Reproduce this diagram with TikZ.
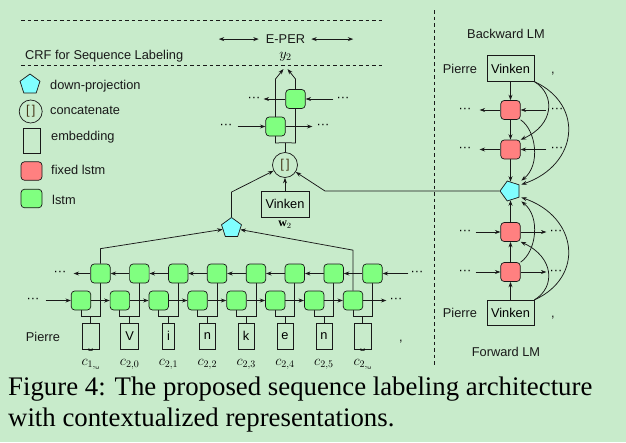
\documentclass[tikz,border=0pt]{standalone}
\usepackage{fontspec}
\setmainfont{Liberation Serif}
\newfontfamily\hv{Liberation Sans}
\newfontfamily\dejavu{DejaVu Sans}
\usetikzlibrary{arrows.meta,shapes.geometric}
\definecolor{bgc}{RGB}{200,235,203}
\definecolor{lgreen}{RGB}{128,255,128}
\definecolor{lred}{RGB}{255,128,128}
\definecolor{lcyan}{RGB}{128,255,255}
\definecolor{ink}{RGB}{25,25,25}
\definecolor{brk}{RGB}{70,55,25}
\pgfdeclarelayer{bglayer}
\pgfdeclarelayer{linelayer}
\pgfsetlayers{bglayer,linelayer,main}
\newcommand\vsbox{\hbox to 8pt{\hss\vphantom{V}\smash{\raisebox{-9pt}{\dejavu\fontsize{8}{8}\selectfont ␣}}\hss}}
\newcommand\vssub{\hbox{\dejavu\fontsize{6.5}{6.5}\selectfont ␣}}
\begin{document}
\begin{tikzpicture}[
  x=1pt, y=-1pt,
  >={Stealth[length=5.5pt,width=4pt]},
  conn/.style={draw=ink, line width=0.75pt},
  arr/.style={conn, ->},
  sepline/.style={draw=ink, line width=0.6pt, dash pattern=on 3.5pt off 3pt},
  hvtext/.style={font=\hv\fontsize{12.8}{15}\selectfont, inner sep=0pt, text=ink},
  cellbox/.style={rectangle, rounded corners=3.5pt, minimum width=19.5pt, minimum height=19pt, inner sep=0pt, draw=ink, line width=0.7pt},
  lstmcell/.style={cellbox, fill=lgreen},
  fixedcell/.style={cellbox, fill=lred},
  pentnode/.style={regular polygon, regular polygon sides=5, minimum size=21pt, inner sep=0pt, fill=lcyan, draw=ink, line width=0.7pt},
  concatnode/.style={circle, minimum size=25pt, inner sep=0pt, draw=ink, line width=0.7pt, text=brk, font=\hv\fontsize{12.8}{15}\selectfont},
  embnode/.style={rectangle, draw=ink, line width=0.7pt, minimum height=26pt, inner xsep=4.5pt, inner ysep=0pt, font=\hv\fontsize{12.8}{15}\selectfont},
  wordnode/.style={rectangle, draw=ink, line width=0.7pt, minimum width=47pt, minimum height=25.5pt, inner sep=0pt, font=\hv\fontsize{12.8}{15}\selectfont},
  dotnode/.style={font=\hv\fontsize{12.8}{15}\selectfont, inner sep=0pt},
  captext/.style={font=\fontsize{26.8}{31}\selectfont, inner sep=0pt, anchor=base west},
]
\begin{pgfonlayer}{bglayer}
\fill[bgc] (0,0) rectangle (626,442);
\end{pgfonlayer}
\useasboundingbox (0,0) rectangle (626,442);

% separators
\draw[sepline] (21,20) -- (383,20);
\draw[sepline] (21,65) -- (383,65);
\draw[sepline] (434,10) -- (434,366);

% header
\node[hvtext, anchor=base west] (crf) at (25,59) {CRF for Sequence Labeling};
\node[hvtext, anchor=base] (eper) at (285.5,43.5) {E-PER};
\draw[conn,<->] ([xshift=-7pt]eper.west) -- ([xshift=-47pt]eper.west);
\draw[conn,<->] ([xshift=6pt]eper.east) -- ([xshift=48pt]eper.east);
\node[inner sep=0pt, font=\fontsize{14}{16}\selectfont] (y2) at (285.5,57) {$y_2$};

% legend
\node[pentnode] (lp) at (30,84.5) {};
\node[concatnode, minimum size=23pt] (lc) at (30.7,111.5) {[\,]};
\node[rectangle, draw=ink, line width=0.7pt, minimum width=17pt, minimum height=25pt, inner sep=0pt] (le) at (32,140.5) {};
\node[fixedcell, minimum width=21pt, minimum height=18.5pt] (lr) at (31.5,171) {};
\node[lstmcell, minimum width=21pt, minimum height=18.5pt] (lg) at (31.5,198.5) {};
\node[hvtext, anchor=base west] (tp) at (50,89.5) {down-projection};
\node[hvtext, anchor=base west] (tc) at (50,114.8) {concatenate};
\node[hvtext, anchor=base west] (te) at (51,140.7) {embedding};
\node[hvtext, anchor=base west] (tr) at (51,174) {fixed lstm};
\node[hvtext, anchor=base west] (tg) at (52,204) {lstm};

% top stack
\node[lstmcell] (ft) at (275.5,126.5) {};
\node[lstmcell] (bt) at (295.5,99) {};
\node[concatnode] (cc) at (285,165) {[\,]};
\node[wordnode, minimum width=48pt, minimum height=26pt] (vw) at (285,204) {Vinken};
\node[inner sep=0pt, font=\fontsize{12}{14}\selectfont] (w2) at (285,225) {$\mathbf{w}_2$};
\node[dotnode] (dt1) at (226,126.5) {···};
\node[dotnode] (dt2) at (323,126.5) {···};
\node[dotnode] (dt3) at (254,99) {···};
\node[dotnode] (dt4) at (343,99) {···};

% bottom char-level LSTM
\foreach \ch/\sub [count=\k from 0] in {\vsbox/{1,\vssub}, V/{2,0}, i/{2,1}, n/{2,2}, k/{2,3}, e/{2,4}, n/{2,5}, \vsbox/{2,\vssub}} {
  \pgfmathsetmacro\fx{81+38.86*\k}
  \pgfmathsetmacro\bx{100.5+38.86*\k}
  \pgfmathsetmacro\ex{90.75+38.86*\k}
  \node[lstmcell] (f\k) at (\fx,300.5) {};
  \node[lstmcell] (b\k) at (\bx,273.5) {};
  \node[embnode] (e\k) at (\ex,336) {\ch};
  \node[inner sep=0pt, font=\fontsize{14.5}{16}\selectfont, anchor=base] (c\k) at (\ex,365) {$c_{\sub}$};
}
\node[hvtext, anchor=base] (pw) at (43,341) {Pierre};
\node[hvtext, anchor=base] (kw) at (401,341) {,};
\node[dotnode] (dfl) at (33,300.5) {···};
\node[dotnode] (dfr) at (396,300.5) {···};
\node[dotnode] (dbl) at (60,273.5) {···};
\node[dotnode] (dbr) at (417,273.5) {···};
\node[pentnode] (pd) at (231.5,228) {};

% right side LMs
\node[hvtext] (blm) at (506,34) {Backward LM};
\node[wordnode] (vb) at (510.5,68.5) {Vinken};
\node[hvtext, anchor=base] (pb) at (460,73) {Pierre};
\node[hvtext, anchor=base] (kb) at (553,73) {,};
\node[fixedcell] (r1) at (510.5,110) {};
\node[fixedcell] (r2) at (510.5,149.5) {};
\node[pentnode, shape border rotate=90] (rp) at (510.5,191) {};
\node[fixedcell] (r3) at (510.5,232) {};
\node[fixedcell] (r4) at (510.5,272) {};
\node[wordnode] (vf) at (510.5,313) {Vinken};
\node[hvtext, anchor=base] (pf) at (460,317.5) {Pierre};
\node[hvtext, anchor=base] (kf) at (553,317.5) {,};
\node[hvtext] (flm) at (506,352) {Forward LM};
\node[dotnode] (d1l) at (465,110) {···};
\node[dotnode] (d1r) at (557,110) {···};
\node[dotnode] (d2l) at (465,149.5) {···};
\node[dotnode] (d2r) at (557,149.5) {···};
\node[dotnode] (d3l) at (465,232) {···};
\node[dotnode] (d3r) at (556,232) {···};
\node[dotnode] (d4l) at (465,272) {···};
\node[dotnode] (d4r) at (556,272) {···};

% caption
\node[captext] (cap1) at (8,395) {Figure 4: The proposed sequence labeling architecture};
\node[captext] (cap2) at (8,426) {with contextualized representations.};

\begin{pgfonlayer}{linelayer}
% bottom char connections
\foreach \k in {0,...,7} {
  \draw[conn] (e\k.north) -- ++(0,-6) coordinate (j\k);
  \draw[conn] (f\k.south) |- (j\k) -| (b\k.south);
}
\foreach \k in {0,...,6} {
  \pgfmathtruncatemacro\n{\k+1}
  \draw[arr] (f\k.east) -- (f\n.west);
  \draw[arr] (b\n.west) -- (b\k.east);
}
\draw[arr] ([xshift=6pt]dfl.east) -- (f0.west);
\draw[arr] (f7.east) -- ([xshift=-3pt]dfr.west);
\draw[arr] (b0.west) -- ([xshift=7pt]dbl.east);
\draw[arr] ([xshift=-2pt]dbr.west) -- (b7.east);
\draw[arr] (b0.north) -- ++(0,-15) -- (pd);
\draw[arr] (f7.north) -- ++(0,-40.5) -- (pd);
\draw[arr] (pd.north) -- ++(0,-25) -- (cc);

% top stack
\draw[arr] (vw) -- (cc);
\draw[conn] (cc.north) -- ++(0,-9.5) coordinate (jt);
\draw[arr] (jt) -- (275.5,143) -- (275.5,79) -- ([xshift=-2pt,yshift=-12pt]y2.center);
\draw[arr] (jt) -- (295.5,143) -- (295.5,79) -- ([xshift=2pt,yshift=-12pt]y2.center);
\draw[arr] ([xshift=5pt]dt1.east) -- (ft.west);
\draw[arr] (ft.east) -- ([xshift=-4pt]dt2.west);
\draw[arr] (bt.west) -- ([xshift=3pt]dt3.east);
\draw[arr] ([xshift=-3pt]dt4.west) -- (bt.east);

% right stack
\draw[arr] (rp.corner 1) -- (325,191) -- (cc);
\draw[arr] (vb) -- (r1);
\draw[arr] (r1) -- (r2);
\draw[arr] (r2) -- (rp);
\draw[arr] (vf) -- (r4);
\draw[arr] (r4) -- (r3);
\draw[arr] (r3) -- (rp);
\draw[arr] (r1.west) -- ([xshift=8pt]d1l.east);
\draw[arr] ([xshift=-4pt]d1r.west) -- (r1.east);
\draw[arr] (r2.west) -- ([xshift=8pt]d2l.east);
\draw[arr] ([xshift=-4pt]d2r.west) -- (r2.east);
\draw[arr] ([xshift=4pt]d3l.east) -- (r3.west);
\draw[arr] (r3.east) -- ([xshift=-3pt]d3r.west);
\draw[arr] ([xshift=4pt]d4l.east) -- (r4.west);
\draw[arr] (r4.east) -- ([xshift=-3pt]d4r.west);
\draw[arr] (vb.south east) .. controls (556,95) and (554,125) .. (r2.north east);
\draw[arr] (vb.south east) .. controls (585,105) and (578,165) .. ([xshift=2pt]rp.corner 4);
\draw[arr] (r1.south east) .. controls (536,130) and (541,165) .. ([xshift=2pt,yshift=4pt]rp.corner 4);
\draw[arr] (vf.north east) .. controls (556,287) and (554,257) .. (r3.south east);
\draw[arr] (vf.north east) .. controls (585,277) and (578,217) .. ([xshift=2pt]rp.corner 3);
\draw[arr] (r4.north east) .. controls (536,252) and (541,217) .. ([xshift=2pt,yshift=-4pt]rp.corner 3);
\end{pgfonlayer}
\end{tikzpicture}
\end{document}
